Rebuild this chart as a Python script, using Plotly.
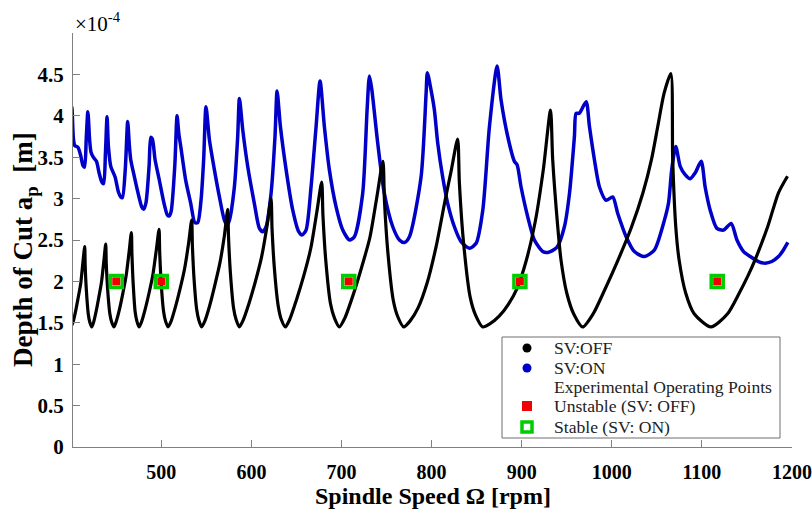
import plotly.graph_objects as go

# ---- data (depth of cut in units of 1e-4 m) ----
speed_off = [400, 401.8, 404.5, 407.5, 410.5, 413.0, 415.0, 415.5, 416.8, 418.9, 420.6, 422.8,
             424.7, 427.5, 430.5, 433.6, 436.3, 438.3, 438.9, 440.4, 442.9, 444.9, 447.5,
             449.8, 453.3, 457.2, 461.0, 464.3, 466.8, 467.4, 468.8, 471.0, 472.9, 475.3,
             478.0, 482.0, 486.4, 490.8, 494.6, 497.5, 498.2, 499.8, 502.5, 504.7, 507.5,
             510.6, 515.4, 520.6, 525.8, 530.3, 533.7, 534.5, 536.3, 539.3, 541.7, 544.8,
             548.3, 553.5, 559.3, 565.0, 570.0, 573.7, 574.6, 576.7, 580.2, 583.0, 586.6,
             590.8, 597.2, 604.2, 611.2, 617.2, 621.8, 622.9, 625.5, 629.8, 633.2, 637.7,
             642.5, 649.8, 657.9, 665.9, 672.8, 678.0, 679.4, 682.5, 687.8, 692.1, 697.6,
             703.4, 712.1, 721.8, 731.5, 739.7, 746.0, 747.6, 751.3, 757.5, 762.6, 769.0,
             776.0, 785.0, 795.0, 805.0, 815.0, 822.0, 828.9, 830.8, 835.3, 842.8, 848.9, 856.7,
             865.0, 875.0, 885.0, 895.0, 905.0, 915.0, 924.0, 932.0, 934.4, 940.0, 943.6, 950.0, 957.6, 967.7,
             979.4, 990.5, 1007.0, 1022.0, 1034.6, 1044.0, 1051.0, 1058.0, 1065.5,
             1067.6, 1071.0, 1074.7, 1082.0, 1091.4, 1110.0,
             1128.5, 1141.5, 1150.8, 1159.0, 1173.0, 1185.0, 1195.0]
depth_off = [1.46, 1.50, 1.62, 1.79, 1.97, 2.23, 2.42, 2.20, 1.90, 1.61, 1.51, 1.45,
             1.50, 1.63, 1.80, 1.99, 2.25, 2.45, 2.22, 1.91, 1.61, 1.51, 1.45,
             1.51, 1.65, 1.85, 2.07, 2.36, 2.59, 2.33, 1.97, 1.63, 1.52, 1.45,
             1.51, 1.66, 1.86, 2.09, 2.39, 2.63, 2.36, 1.99, 1.64, 1.52, 1.45,
             1.51, 1.68, 1.90, 2.15, 2.46, 2.74, 2.44, 2.04, 1.66, 1.53, 1.45,
             1.52, 1.70, 1.95, 2.22, 2.55, 2.87, 2.54, 2.10, 1.68, 1.54, 1.45,
             1.53, 1.73, 1.99, 2.29, 2.66, 3.00, 2.64, 2.16, 1.70, 1.54, 1.45,
             1.54, 1.77, 2.06, 2.40, 2.85, 3.20, 2.80, 2.26, 1.73, 1.56, 1.45,
             1.55, 1.81, 2.15, 2.53, 3.05, 3.45, 2.99, 2.37, 1.77, 1.57, 1.45,
             1.52, 1.68, 1.98, 2.42, 2.98, 3.35, 3.72, 3.20, 2.49, 1.81, 1.59, 1.45,
             1.49, 1.58, 1.72, 1.92, 2.25, 2.72, 3.35, 4.07, 3.47, 2.66, 2.26, 1.86, 1.61, 1.45,
             1.61, 1.86, 2.26, 2.66, 3.07, 3.47, 3.87, 4.27, 4.51,
             3.47, 2.66, 2.26, 1.86, 1.61, 1.45,
             1.61, 1.86, 2.06, 2.26, 2.66, 3.07, 3.27]

speed_on = [400, 400.8, 402.5, 404, 407.5, 410.5, 413, 414.8, 416.8, 418.5, 420.5, 422, 424.5, 428,
            431, 434, 436, 438, 439.8, 441.3, 443.9, 448.7, 452.4, 455, 456.8, 460, 462.7,
            464.5, 466.1, 469.8, 473.5, 478.3, 480.5, 483, 486.5, 488.3, 490.1, 493.1, 497.5,
            503.1, 506.8, 508.8, 511, 515, 517.5, 519.5, 521.6, 527.1, 532.7, 537.2, 540.4,
            544.1, 547, 549.6, 553.4, 558.9, 564.5, 570, 573, 575.6, 581.1, 584.8, 586.7,
            590.4, 595.9, 603.3, 608.9, 612.6, 616.3, 621.8, 626.2, 628.5, 632.2, 638.5,
            645.9, 652.5, 656.2, 660.7, 666.2, 671.8, 676.2, 681, 686.5, 694, 701.4, 708.8,
            714.3, 723.5, 728.4, 731, 733.5, 740.2, 747.6, 756.9, 764.3, 769.8, 775.4, 788.3,
            793.9, 795.3, 799.4, 803.1, 806.8, 812.3, 817.9, 825.3, 832.7, 842, 849.4, 856.8,
            864.2, 872.7, 877.1, 884.5, 891.9, 894.9, 899.3, 906.7, 914.1, 923.4, 929, 939,
            947.4, 953, 958.5, 960.4, 964, 971.5, 975.2, 980.7, 986.3, 993.7, 1001, 1006.6,
            1015.9, 1025.1, 1036.2, 1047.3, 1058.4, 1063, 1066.5, 1071, 1075.9, 1081.4, 1087,
            1092.5, 1099.2, 1103.6, 1109.2, 1116.6, 1124, 1132.5, 1138.9, 1146.3, 1153.7,
            1162.8, 1170.2, 1177.6, 1185, 1190.5, 1195.4]
depth_on = [3.90, 4.11, 3.72, 3.64, 3.62, 3.52, 3.40, 3.38, 3.75, 4.05, 3.70, 3.56, 3.50, 3.45,
            3.31, 3.20, 3.18, 3.55, 3.99, 3.63, 3.39, 3.26, 3.08, 3.02, 3.01, 3.35, 3.93,
            3.65, 3.47, 3.28, 3.10, 2.90, 2.87, 2.95, 3.40, 3.74, 3.72, 3.47, 3.24,
            2.94, 2.80, 2.79, 2.85, 3.40, 4.00, 3.78, 3.63, 3.22, 2.94, 2.71, 2.71,
            2.98, 3.47, 4.11, 3.71, 3.35, 3.02, 2.74, 2.68, 2.74, 3.14, 3.75, 4.21,
            3.83, 3.39, 2.94, 2.64, 2.60, 2.66, 3.06, 3.75, 4.30, 3.87, 3.35,
            2.86, 2.60, 2.56, 2.62, 3.14, 3.87, 4.42, 3.87, 3.35, 2.90, 2.62, 2.50,
            2.54, 3.06, 4.07, 4.48, 4.33, 3.67, 3.06, 2.66, 2.50, 2.47, 2.54, 3.26,
            4.27, 4.52, 4.31, 4.07, 3.67, 3.26, 2.94, 2.66, 2.48, 2.40, 2.46, 2.86,
            3.87, 4.60, 4.19, 3.75, 3.45, 3.41, 3.14, 2.78, 2.50, 2.36, 2.35, 2.41,
            2.66, 3.06, 3.75, 4.03, 4.03, 4.17, 3.87, 3.47, 3.14, 2.98, 3.02, 2.82,
            2.54, 2.36, 2.30, 2.38, 2.74, 2.95, 3.35, 3.63, 3.39, 3.29, 3.24,
            3.31, 3.45, 3.14, 2.86, 2.64, 2.62, 2.70, 2.50, 2.36, 2.30,
            2.24, 2.22, 2.24, 2.30, 2.38, 2.47]

exp_speed = [450, 500, 708, 898, 1117]
exp_depth = [2.0, 2.0, 2.0, 2.0, 2.0]

x_ticks = [500, 600, 700, 800, 900, 1000, 1100, 1200]
y_ticks = [0, 0.5, 1, 1.5, 2, 2.5, 3, 3.5, 4, 4.5]
y_ticklabels = ["0", "0.5", "1", "1.5", "2", "2.5", "3", "3.5", "4", "4.5"]

legend_labels = ["SV:OFF", "SV:ON", "Experimental Operating Points",
                 "Unstable (SV: OFF)", "Stable (SV: ON)"]

BLUE = "rgb(0,0,200)"
GREEN = "rgb(0,205,0)"
RED = "rgb(240,0,0)"
AXIS = "#808080"
SERIF = "Liberation Serif, Times New Roman, serif"

# plot-area geometry (pixels) used to place the hand-drawn legend
L, T, W, H = 73, 33, 719, 414


def px(x):
    return (x - L) / W


def py(y):
    return (T + H - y) / H


fig = go.Figure()
fig.add_trace(go.Scatter(x=speed_on, y=depth_on, mode="lines", showlegend=False,
                         line=dict(color=BLUE, width=3.5, shape="spline", smoothing=0.7)))
fig.add_trace(go.Scatter(x=speed_off, y=depth_off, mode="lines", showlegend=False,
                         line=dict(color="black", width=3.2, shape="spline", smoothing=0.7)))
fig.add_trace(go.Scatter(x=exp_speed, y=exp_depth, mode="markers", showlegend=False,
                         marker=dict(symbol="square-open", size=12, color=GREEN,
                                     line=dict(width=3.5, color=GREEN))))
fig.add_trace(go.Scatter(x=exp_speed, y=exp_depth, mode="markers", showlegend=False,
                         marker=dict(symbol="square", size=8, color=RED, line=dict(width=0))))

# ---- legend box (drawn by hand to match row spacing) ----
shapes = [dict(type="rect", xref="paper", yref="paper", x0=px(502), x1=px(780),
               y0=py(438), y1=py(337), fillcolor="white", line=dict(color="#6e6e6e", width=1),
               layer="above")]
row_y = [348, 368, 387, 406, 427]
sym_x = 527
shapes.append(dict(type="circle", xref="paper", yref="paper", xsizemode="pixel", ysizemode="pixel",
                   xanchor=px(sym_x), yanchor=py(row_y[0]), x0=-4.5, x1=4.5, y0=-4.5, y1=4.5,
                   fillcolor="black", line=dict(width=0), layer="above"))
shapes.append(dict(type="circle", xref="paper", yref="paper", xsizemode="pixel", ysizemode="pixel",
                   xanchor=px(sym_x), yanchor=py(row_y[1]), x0=-4.5, x1=4.5, y0=-4.5, y1=4.5,
                   fillcolor=BLUE, line=dict(width=0), layer="above"))
shapes.append(dict(type="rect", xref="paper", yref="paper", xsizemode="pixel", ysizemode="pixel",
                   xanchor=px(sym_x), yanchor=py(row_y[3]), x0=-5, x1=5, y0=-5, y1=5,
                   fillcolor=RED, line=dict(width=0), layer="above"))
shapes.append(dict(type="rect", xref="paper", yref="paper", xsizemode="pixel", ysizemode="pixel",
                   xanchor=px(sym_x), yanchor=py(row_y[4]), x0=-5, x1=5, y0=-5, y1=5,
                   fillcolor="white", line=dict(width=3.5, color=GREEN), layer="above"))

annotations = []
for lab, ry in zip(legend_labels, row_y):
    annotations.append(dict(text=lab, xref="paper", yref="paper", x=px(552), y=py(ry),
                            xanchor="left", yanchor="middle", showarrow=False,
                            font=dict(family=SERIF, size=17.6, color="#222222")))

annotations += [
    dict(text="×10<sup>-4</sup>", xref="paper", yref="paper", x=0.0, y=py(22),
         xanchor="left", yanchor="middle", showarrow=False,
         font=dict(family=SERIF, size=21, color="black")),
    dict(text="Depth of Cut a<sub>p</sub>&nbsp; [m]", xref="paper", yref="paper",
         x=px(25), y=py(250), xanchor="center", yanchor="middle", textangle=-90,
         showarrow=False, font=dict(family=SERIF, size=27, color="black", weight="bold")),
    dict(text="Spindle Speed Ω [rpm]", xref="paper", yref="paper", x=0.5, y=py(496),
         xanchor="center", yanchor="middle", showarrow=False,
         font=dict(family=SERIF, size=24, color="black", weight="bold")),
]

xtickfont = dict(family=SERIF, size=20, color="black", weight="bold")
ytickfont = dict(family=SERIF, size=21, color="black", weight="bold")
fig.update_layout(
    width=812, height=514,
    margin=dict(l=L, r=20, t=T, b=67, autoexpand=False),
    paper_bgcolor="white", plot_bgcolor="white",
    showlegend=False,
    xaxis=dict(range=[402, 1200], tickvals=x_ticks, ticks="inside", ticklen=7,
               tickcolor=AXIS, showline=True, linecolor=AXIS, linewidth=1,
               showgrid=False, zeroline=False, tickfont=xtickfont, ticklabelstandoff=7,
               ticklabeloverflow="allow", automargin=False),
    yaxis=dict(range=[0, 5], tickvals=y_ticks, ticktext=y_ticklabels, ticks="inside",
               ticklen=7, tickcolor=AXIS, showline=True, linecolor=AXIS, linewidth=1,
               showgrid=False, zeroline=False, tickfont=ytickfont, ticklabelstandoff=4,
               ticklabeloverflow="allow", automargin=False),
    shapes=shapes,
    annotations=annotations,
)

fig.write_html("out.html")
